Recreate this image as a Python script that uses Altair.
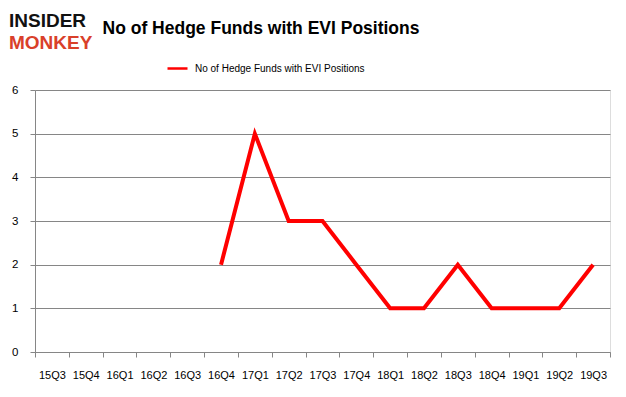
import altair as alt
import pandas as pd

quarters = ["15Q3", "15Q4", "16Q1", "16Q2", "16Q3", "16Q4", "17Q1", "17Q2", "17Q3",
            "17Q4", "18Q1", "18Q2", "18Q3", "18Q4", "19Q1", "19Q2", "19Q3"]
values = [None, None, None, None, None, 2, 5, 3, 3, 2, 1, 1, 2, 1, 1, 1, 2]
series_name = "No of Hedge Funds with EVI Positions"
title_text = "No of Hedge Funds with EVI Positions"
y_ticks = [0, 1, 2, 3, 4, 5, 6]

df = pd.DataFrame({"quarter": quarters, "value": values})
df["series"] = series_name
df = df.dropna()

W, H = 575, 262
GRID = "#868686"

line = alt.Chart(df).mark_line(strokeWidth=4, strokeJoin="miter", clip=False).encode(
    x=alt.X("quarter:N", sort=quarters, bandPosition=0.5,
            scale=alt.Scale(type="band", domain=quarters, paddingInner=0, paddingOuter=0),
            axis=alt.Axis(title=None, labelAngle=0, tickBand="extent", tickSize=5,
                          tickColor=GRID, domainColor=GRID, labelPadding=12,
                          labelFont="Liberation Sans", labelFontSize=11, labelColor="#000",
                          grid=False)),
    y=alt.Y("value:Q", scale=alt.Scale(domain=[0, 6], nice=False),
            axis=alt.Axis(title=None, values=y_ticks, tickSize=5, tickColor=GRID,
                          domainColor=GRID, gridColor=GRID, grid=True, labelPadding=12,
                          labelFont="Liberation Sans", labelFontSize=11.5, labelColor="#000")),
    color=alt.Color("series:N", scale=alt.Scale(range=["#ff0000"]),
                    legend=alt.Legend(title=None, orient="none", legendX=131, legendY=-33,
                                      symbolType="stroke", symbolSize=400, symbolStrokeWidth=2.5,
                                      labelFont="Liberation Sans", labelFontSize=10,
                                      labelColor="#000", labelOffset=6, padding=0,
                                      labelLimit=0)),
)

title = alt.Chart(pd.DataFrame({"t": [title_text]})).mark_text(
    font="Liberation Sans", fontSize=17.5, fontWeight="bold", color="#000",
    align="center", baseline="alphabetic"
).encode(text="t:N", x=alt.value(226), y=alt.value(-56))

logo1 = alt.Chart(pd.DataFrame({"t": ["INSIDER"]})).mark_text(
    font="Liberation Sans", fontSize=19, fontWeight="bold", color="#111",
    align="left", baseline="alphabetic"
).encode(text="t:N", x=alt.value(-26), y=alt.value(-63))

logo2 = alt.Chart(pd.DataFrame({"t": ["MONKEY"]})).mark_text(
    font="Liberation Sans", fontSize=19, fontWeight="bold", color="#d9402a",
    align="left", baseline="alphabetic"
).encode(text="t:N", x=alt.value(-26), y=alt.value(-41))

chart = alt.layer(line, title, logo1, logo2).properties(
    width=W, height=H,
    autosize=alt.AutoSizeParams(type="none"),
    padding={"left": 27, "top": 82, "right": 8, "bottom": 30},
).configure_view(stroke=None).configure(background="white")

chart.save("out.html", embed_options={"renderer": "svg", "actions": False})
